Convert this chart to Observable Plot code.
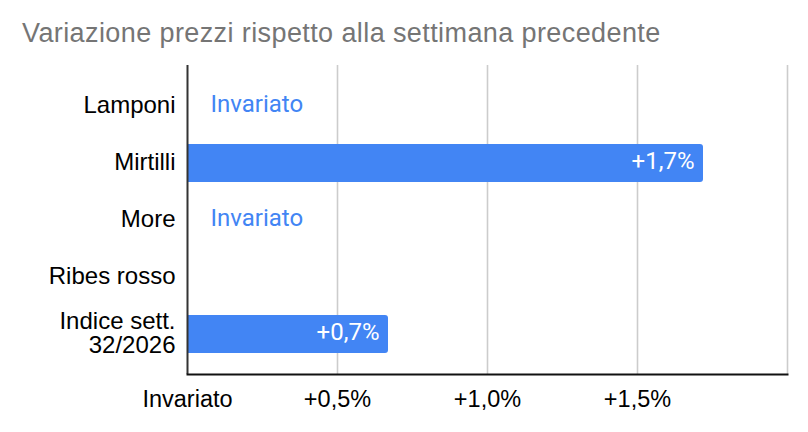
<!DOCTYPE html>
<html>
<head>
<meta charset="utf-8">
<script src="https://cdn.jsdelivr.net/npm/d3@7"></script>
<script src="https://cdn.jsdelivr.net/npm/@observablehq/plot@0.6"></script>
<style>
  html, body { margin: 0; padding: 0; background: #fff; }
  #wrap { width: 808px; height: 432px; overflow: hidden; }
  #title { box-sizing: border-box; height: 55px; padding: 20px 0 0 22px; font: 27px/27px 'Liberation Sans', Arial, sans-serif; letter-spacing: 0.4px; color: #757575; white-space: nowrap; }
  svg { display: block; }
</style>
</head>
<body>
<div id="wrap">
  <div id="title">Variazione prezzi rispetto alla settimana precedente</div>
  <div id="chart"></div>
</div>
<script>
const categories = ["Lamponi", "Mirtilli", "More", "Ribes rosso", "Indice sett.\n32/2026"];
const values = [0, 1.72, 0, null, 0.67];
const xTicks = [0, 0.5, 1, 1.5, 2];
const xTickLabels = ["Invariato", "+0,5%", "+1,0%", "+1,5%", ""];

const data = categories.map((c, i) => ({ cat: c, value: values[i] }));
const bars = data.filter(d => d.value != null && d.value > 0);
const zeros = data.filter(d => d.value === 0);
const fmt = v => "+" + v.toFixed(1).replace(".", ",") + "%";
const blue = "#4285F4";

const chart = Plot.plot({
  width: 808,
  height: 377,
  marginTop: 10,
  marginBottom: 58,
  marginLeft: 187,
  marginRight: 21,
  style: { fontFamily: "'Liberation Sans', Arial, sans-serif", fontSize: "24px", color: "#000", background: "#fff" },
  x: { domain: [0, 2] },
  y: { domain: categories, padding: 0.34 },
  marks: [
    Plot.ruleX(xTicks.slice(1), { stroke: "#cccccc", strokeWidth: 1.6 }),
    Plot.barX(bars, { x: "value", y: "cat", fill: blue, rx: 3 }),
    Plot.barX(bars, { x1: 0, x2: d => d.value / 2, y: "cat", fill: blue }),
    Plot.text(bars, { x: "value", y: "cat", text: d => fmt(d.value), textAnchor: "end", dx: -9, dy: -2, fill: "#fff", fontFamily: "Roboto, sans-serif", fontSize: 24 }),
    Plot.text(zeros, { x: "value", y: "cat", text: () => "Invariato", textAnchor: "start", dx: 23, dy: -2, fill: blue, fontFamily: "Roboto, sans-serif", fontSize: 24 }),
    Plot.axisY({ tickSize: 0, tickPadding: 12, fontSize: 24, lineHeight: 1, dy: -1, label: null }),
    Plot.axisX({ ticks: xTicks, tickFormat: (d) => xTickLabels[xTicks.indexOf(d)], tickSize: 0, tickPadding: 16, fontSize: 23.5, label: null }),
    Plot.ruleX([0], { stroke: "#333", strokeWidth: 2 }),
    Plot.frame({ anchor: "bottom", stroke: "#111", strokeWidth: 2 })
  ]
});
document.getElementById("chart").appendChild(chart);
</script>
</body>
</html>
